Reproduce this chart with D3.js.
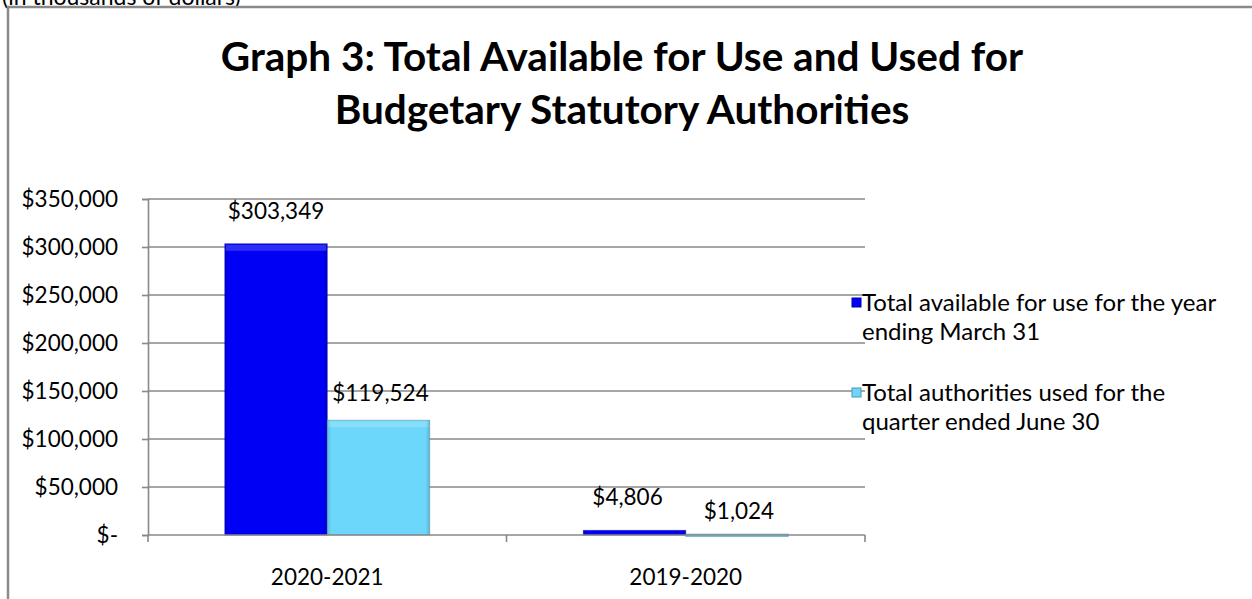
<!DOCTYPE html>
<html>
<head>
<meta charset="utf-8">
<script src="https://cdn.jsdelivr.net/npm/d3@7"></script>
<style>
  html, body { margin: 0; padding: 0; background: #fff; }
  svg { display: block; font-family: Lato, "Open Sans", sans-serif; }
</style>
</head>
<body>
<svg id="chart" width="1252" height="599"></svg>
<script>
// ---- data ----
const categories = ["2020-2021", "2019-2020"];
const seriesNames = [
  "Total available for use for the year ending March 31",
  "Total authorities used for the quarter ended June 30"
];
const legendLines = [
  ["Total available for use for the year", "ending March 31"],
  ["Total authorities used for the", "quarter ended June 30"]
];
const availableValues = [303349, 4806];
const usedValues = [119524, 1024];
const yTicks = [0, 50000, 100000, 150000, 200000, 250000, 300000, 350000];
const titleLines = ["Graph 3: Total Available for Use and Used for", "Budgetary Statutory Authorities"];
const subtitle = "(in thousands of dollars)";

// ---- layout / style ----
const colors = ["#0000F5", "#6DD7FB"];
const plot = { left: 148, right: 865, top: 199, bottom: 535 };
const fs = 22.5;
// label offsets [dx, dy] per category per series (visual placement only)
const labelShift = [[[0, -25], [2, -19]], [[-7, -25], [2, -15]]];

const svg = d3.select("#chart");
const defs = svg.append("defs");

function bevel(id, base) {
  const c = d3.color(base);
  const g = defs.append("linearGradient").attr("id", id).attr("x1", 0).attr("x2", 1).attr("y1", 0).attr("y2", 0);
  g.append("stop").attr("offset", "0%").attr("stop-color", c.darker(0.4));
  g.append("stop").attr("offset", "4%").attr("stop-color", base);
  g.append("stop").attr("offset", "96%").attr("stop-color", base);
  g.append("stop").attr("offset", "100%").attr("stop-color", c.darker(0.5));
}
bevel("g0", colors[0]);
bevel("g1", colors[1]);

// subtitle (clipped at top, as in the reference)
svg.append("text").attr("x", 2).attr("y", 5).attr("font-size", 23).attr("fill", "#000").text(subtitle);

// frame
svg.append("path").attr("d", "M8,600 V7 H1253").attr("fill", "none").attr("stroke", "#8a8a8a").attr("stroke-width", 2.5);

// title
svg.append("g").selectAll("text").data(titleLines).join("text")
  .attr("x", 622).attr("y", (d, i) => 71 + i * 53)
  .attr("text-anchor", "middle").attr("font-size", 40.5).attr("font-weight", "bold").attr("fill", "#000")
  .text(d => d);

// scales
const x0 = d3.scaleBand().domain(categories).range([plot.left, plot.right]).paddingInner(0).paddingOuter(0);
const y = d3.scaleLinear().domain([0, 350000]).range([plot.bottom, plot.top]);
const x1 = d3.scaleBand().domain([0, 1]).range([0, x0.bandwidth()]).paddingInner(0).paddingOuter(0.75);

// gridlines
svg.append("g").selectAll("line").data(yTicks.filter(d => d > 0)).join("line")
  .attr("x1", plot.left).attr("x2", plot.right)
  .attr("y1", d => y(d)).attr("y2", d => y(d))
  .attr("stroke", "#888").attr("stroke-width", 1.6);

// y axis
const fmt = v => v === 0 ? "$-" : "$" + d3.format(",")(v);
const yAxis = svg.append("g").attr("transform", `translate(${plot.left},0)`)
  .call(d3.axisLeft(y).tickValues(yTicks).tickFormat(fmt).tickSize(6).tickPadding(24));
yAxis.select(".domain").attr("stroke", "#888").attr("stroke-width", 1.6);
yAxis.selectAll(".tick line").attr("stroke", "#888").attr("stroke-width", 1.6);
yAxis.selectAll(".tick text").attr("font-size", fs).attr("fill", "#000").attr("font-family", "Lato, sans-serif");

// bars
const data = categories.map((c, i) => ({ cat: c, vals: [availableValues[i], usedValues[i]] }));
const groups = svg.append("g").selectAll("g").data(data).join("g")
  .attr("transform", d => `translate(${x0(d.cat)},0)`);
groups.selectAll("rect").data(d => d.vals.map((v, s) => ({ v, s }))).join("rect")
  .attr("x", d => x1(d.s)).attr("width", x1.bandwidth())
  .attr("y", d => y(d.v)).attr("height", d => Math.max(plot.bottom - y(d.v), 2.5))
  .attr("fill", d => `url(#g${d.s})`)
  .attr("stroke", d => d3.color(colors[d.s]).darker(1.2)).attr("stroke-opacity", 0.5).attr("stroke-width", 1);
// top highlight strip (bevel)
groups.selectAll("rect.hl").data(d => d.vals.map((v, s) => ({ v, s })).filter(e => plot.bottom - y(e.v) > 20)).join("rect")
  .attr("class", "hl")
  .attr("x", d => x1(d.s) + 1).attr("width", x1.bandwidth() - 2)
  .attr("y", d => y(d.v) + 1).attr("height", 6)
  .attr("fill", "#fff").attr("opacity", 0.18);

// x axis
const xAxis = svg.append("g").attr("transform", `translate(0,${plot.bottom})`);
xAxis.append("line").attr("x1", plot.left).attr("x2", plot.right).attr("y1", 0).attr("y2", 0)
  .attr("stroke", "#888").attr("stroke-width", 1.6);
xAxis.selectAll("line.t").data([plot.left, x0(categories[1]), plot.right]).join("line")
  .attr("class", "t").attr("x1", d => d).attr("x2", d => d).attr("y1", 0).attr("y2", 7)
  .attr("stroke", "#888").attr("stroke-width", 1.6);
xAxis.selectAll("text").data(categories).join("text")
  .attr("x", d => x0(d) + x0.bandwidth() / 2).attr("y", 50)
  .attr("text-anchor", "middle").attr("font-size", fs).attr("fill", "#000").text(d => d);

// value labels
groups.selectAll("text").data((d, ci) => d.vals.map((v, s) => ({ v, s, ci }))).join("text")
  .attr("x", d => x1(d.s) + x1.bandwidth() / 2 + labelShift[d.ci][d.s][0])
  .attr("y", d => y(d.v) + labelShift[d.ci][d.s][1])
  .attr("text-anchor", "middle").attr("font-size", fs).attr("fill", "#000")
  .text(d => "$" + d3.format(",")(d.v));

// legend
const leg = svg.append("g").attr("transform", "translate(852,0)");
const legY = [303, 393];
seriesNames.forEach((name, i) => {
  const g = leg.append("g").attr("transform", `translate(0,${legY[i]})`);
  g.append("rect").attr("x", 0).attr("y", -5).attr("width", 9).attr("height", 9)
    .attr("fill", colors[i]).attr("stroke", d3.color(colors[i]).darker(1)).attr("stroke-width", 1);
  g.selectAll("text").data(legendLines[i]).join("text")
    .attr("x", 10).attr("y", (d, j) => 8 + j * 29)
    .attr("font-size", 24).attr("fill", "#000").text(d => d);
});
</script>
</body>
</html>
